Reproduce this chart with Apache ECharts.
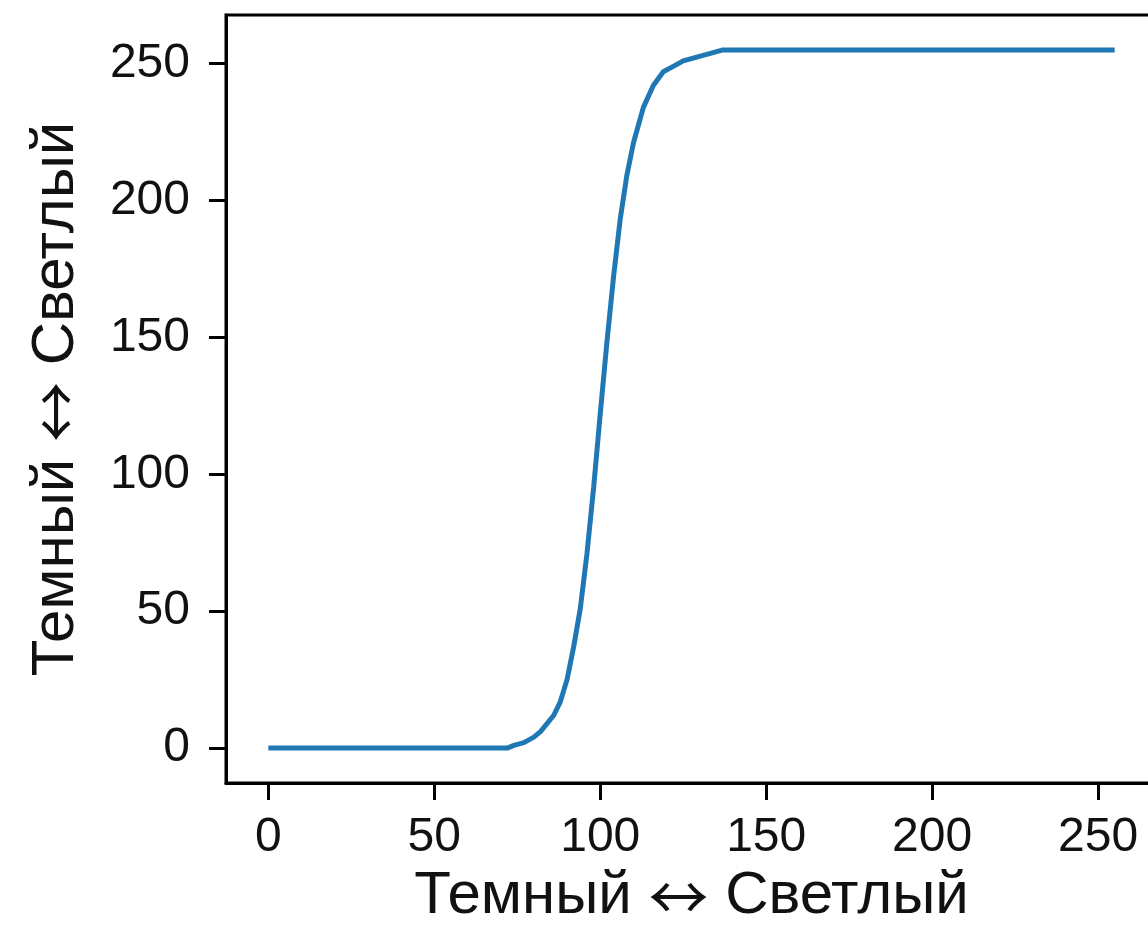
<!DOCTYPE html>
<head>
    <meta charset="utf-8"/>
    <style>
        html, body { margin: 0; padding: 0; background: #fff; }
        #container { width: 1148px; height: 934px; }
    </style>
</head>
<body>
<div id="container"></div>
<script src="https://cdn.jsdelivr.net/npm/echarts@6/dist/echarts.min.js"></script>
<script type="text/javascript">
    // входная яркость -> выходная (кривая тонов)
    var inputLevels  = [0, 72, 74, 77, 80, 82, 84, 86, 88, 90, 92, 94, 96, 98, 100, 102, 104, 106, 108, 110, 113, 116, 119, 122, 125, 128, 131, 134, 137, 255];
    var outputLevels = [0, 0, 1, 2, 4, 6, 9, 12, 17, 25, 37, 51, 71, 95, 122, 148, 172, 193, 209, 221, 234, 242, 247, 249, 251, 252, 253, 254, 255, 255];
    var tickValues = [0, 50, 100, 150, 200, 250];
    var axisTitle = '{t|Темный }{a|\u2194}{t| Светлый}';

    var curve = [];
    for (var i = 0; i < inputLevels.length; i++) {
        curve.push([inputLevels[i], outputLevels[i]]);
    }

    var font = 'Liberation Sans';
    var titleStyle = {
        rich: {
            t: { fontFamily: font, fontSize: 60, color: '#111' },
            a: { fontFamily: 'Noto Sans CJK SC', fontSize: 60, color: '#111' }
        }
    };
    var dom = document.getElementById("container");
    var myChart = echarts.init(dom);

    var option = {
        animation: false,
        grid: {
            left: 226,
            top: 15,
            right: -9,
            bottom: 151,
            show: true,
            borderColor: '#000',
            borderWidth: 3,
            outerBoundsMode: 'none'
        },
        xAxis: {
            type: 'value',
            min: -12.75,
            max: 267.75,
            name: axisTitle,
            nameLocation: 'middle',
            nameGap: 62,
            nameTextStyle: titleStyle,
            splitLine: { show: false },
            axisLine: { show: true, onZero: false, lineStyle: { color: '#000', width: 3 } },
            axisTick: { show: true, length: 17, lineStyle: { color: '#000', width: 3 }, customValues: tickValues },
            axisLabel: { fontFamily: font, fontSize: 48, color: '#111', margin: 31, customValues: tickValues }
        },
        yAxis: {
            type: 'value',
            min: -12.75,
            max: 267.75,
            name: axisTitle,
            nameLocation: 'middle',
            nameRotate: 90,
            nameGap: 140,
            nameTextStyle: titleStyle,
            splitLine: { show: false },
            axisLine: { show: true, onZero: false, lineStyle: { color: '#000', width: 3 } },
            axisTick: { show: true, length: 17, lineStyle: { color: '#000', width: 3 }, customValues: tickValues },
            axisLabel: { fontFamily: font, fontSize: 48, color: '#111', margin: 36, customValues: tickValues }
        },
        series: [
            {
                type: 'line',
                data: curve,
                symbol: 'none',
                lineStyle: { color: '#1f77b4', width: 5 }
            }
        ]
    };

    if (option && typeof option === "object") {
        myChart.setOption(option, true);
    }
</script>
</body>
